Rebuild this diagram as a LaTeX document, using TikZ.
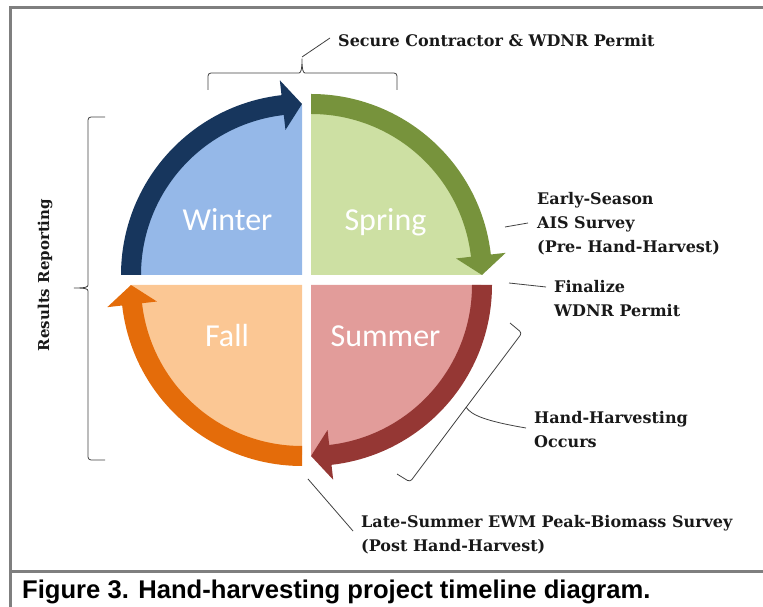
\documentclass[tikz,border=0pt]{standalone}
\usepackage{fontspec}
\usepackage{tikz}
\usetikzlibrary{calc, positioning}
\newfontfamily\seasonfont{Carlito}
\newfontfamily\notefont{DejaVu Serif}
\newfontfamily\captionfont{Liberation Sans}
\definecolor{winterfill}{HTML}{95B8E8}
\definecolor{springfill}{HTML}{CDE0A3}
\definecolor{summerfill}{HTML}{E29C9A}
\definecolor{fallfill}{HTML}{FBC794}
\definecolor{winterband}{HTML}{17365D}
\definecolor{springband}{HTML}{77933C}
\definecolor{summerband}{HTML}{953734}
\definecolor{fallband}{HTML}{E46C0A}
\definecolor{framegray}{HTML}{7F7F7F}

\begin{document}
\begin{tikzpicture}[x=1pt, y=1pt,
		season/.style={text=white, font=\seasonfont\fontsize{32}{38}\selectfont, anchor=base, inner sep=0pt},
		note/.style={font=\notefont\bfseries\fontsize{16}{24}\selectfont, align=left, anchor=base west, inner sep=0pt, text=black!90},
		leader/.style={draw=black!75, line width=0.8pt},
		bracket/.style={draw=black!75, line width=0.8pt, rounded corners=3pt}]
		\useasboundingbox (0,0) rectangle (763,607);
		% frame and caption
		\draw[framegray, line width=3pt] (10,0) -- (10,599) -- (763,599);
		\draw[framegray, line width=3pt] (10,35) -- (763,35);
		\node[anchor=base west, inner sep=0pt, font=\captionfont\bfseries\fontsize{25.6}{30}\selectfont] (caption) at (22,8) {Figure 3. Hand-harvesting project timeline diagram.};
		% quarters with their arrows, clockwise
		\foreach \cx/\cy/\a/\qfill/\qband in {302/332/90/winterfill/winterband, 311/332/0/springfill/springband, 311/322/-90/summerfill/summerband, 302/322/180/fallfill/fallband}{
			\begin{scope}[shift={(\cx,\cy)}]
				\fill[fill=\qfill] (0,0) -- (\a:170) arc[start angle=\a, end angle=\a+90, radius=170] -- cycle;
				\fill[fill=\qband] (\a+90:181) arc[start angle=\a+90, end angle=\a+6, radius=181] -- (\a+6:161) arc[start angle=\a+6, end angle=\a+90, radius=161] -- cycle;
				\fill[fill=\qband] (\a+6.5:146) -- (\a+6.5:196) -- (\a:171) -- cycle;
			\end{scope}
		}
		\node[season] (winter) at (227.5,376) {Winter};
		\node[season] (spring) at (385.5,376) {Spring};
		\node[season] (fall) at (227,260) {Fall};
		\node[season] (summer) at (385.5,260) {Summer};
		% labels (base is the last line)
		\node[note] (secure) at (338,560) {Secure Contractor \& WDNR Permit};
		\node[note] (early) at (537,354) {Early-Season\\AIS Survey\\(Pre- Hand-Harvest)};
		\node[note] (finalize) at (554,290) {Finalize\\WDNR Permit};
		\node[note] (handharvest) at (534,159) {Hand-Harvesting\\Occurs};
		\node[note] (late) at (361,55) {Late-Summer EWM Peak-Biomass Survey\\(Post Hand-Harvest)};
		\node[note, font=\notefont\bfseries\fontsize{15}{20}\selectfont, rotate=90, anchor=center] (results) at (45,332) {Results Reporting};
		% brackets
		\draw[bracket] (208,517) -- (208,534) -- (296,534) .. controls (301,534) and (302,538) .. (302,550) .. controls (302,538) and (303,534) .. (308,534) -- (397,534) -- (397,517);
		\draw[bracket] (105,490) -- (88,490) -- (88,325) .. controls (88,320) and (86,319) .. (72,319) .. controls (86,319) and (88,318) .. (88,313) -- (88,147) -- (105,147);
		\draw[bracket] (510,284) -- (522,274) -- (410,125) -- (397,133);
		% leaders
		\coordinate (topTip) at (302,550);
		\coordinate (secureEnd) at (330,569);
		\coordinate (earlyStart) at (505,380);
		\coordinate (earlyEnd) at (528,384);
		\coordinate (finalStart) at (509,324);
		\coordinate (finalEnd) at (546,320);
		\coordinate (handTip) at (466,200);
		\coordinate (handEnd) at (526,179);
		\coordinate (lateStart) at (308,128);
		\coordinate (lateEnd) at (353,76);
		\draw[leader] (topTip) -- (secureEnd);
		\draw[leader] (earlyStart) -- (earlyEnd);
		\draw[leader] (finalStart) -- (finalEnd);
		\draw[leader] (handTip) .. controls (471,192) and (485,186) .. (handEnd);
		\draw[leader] (lateStart) -- (lateEnd);
	\end{tikzpicture}
\end{document}
